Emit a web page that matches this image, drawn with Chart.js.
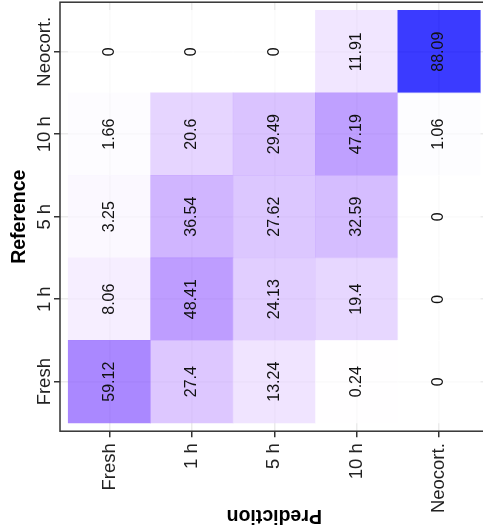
<!DOCTYPE html>
<html>
<head>
<meta charset="utf-8">
<script src="https://cdn.jsdelivr.net/npm/chart.js@4/dist/chart.umd.min.js"></script>
<style>
  html, body { margin: 0; padding: 0; background: #fff; overflow: hidden; }
  canvas { display: block; }
</style>
</head>
<body>
<canvas id="c" width="490" height="532"></canvas>
<script>
// Category labels (columns = prediction, rows = reference, listed bottom-up)
const predictionLabels = ['Fresh', '1 h', '5 h', '10 h', 'Neocort.'];
const referenceLabels = ['Fresh', '1 h', '5 h', '10 h', 'Neocort.'];

// Percent of each reference group assigned to each predicted group
const freshRow    = [59.12, 27.4, 13.24, 0.24, 0];
const oneHourRow  = [8.06, 48.41, 24.13, 19.4, 0];
const fiveHourRow = [3.25, 36.54, 27.62, 32.59, 0];
const tenHourRow  = [1.66, 20.6, 29.49, 47.19, 1.06];
const neocortRow  = [0, 0, 0, 11.91, 88.09];
const rows = [freshRow, oneHourRow, fiveHourRow, tenHourRow, neocortRow];

// White -> blue fill gradient, interpolated in CIELAB
const maxVal = Math.max(...rows.flat());
const lin = c => { c /= 255; return c <= 0.04045 ? c / 12.92 : Math.pow((c + 0.055) / 1.055, 2.4); };
const gam = c => { c = c <= 0.0031308 ? 12.92 * c : 1.055 * Math.pow(c, 1 / 2.4) - 0.055; return Math.round(Math.min(1, Math.max(0, c)) * 255); };
const Xn = 0.95047, Yn = 1.0, Zn = 1.08883;
function toLab(rgb) {
  const [r, g, b] = rgb.map(lin);
  const X = 0.4124 * r + 0.3576 * g + 0.1805 * b;
  const Y = 0.2126 * r + 0.7152 * g + 0.0722 * b;
  const Z = 0.0193 * r + 0.1192 * g + 0.9505 * b;
  const f = t => t > 0.008856 ? Math.cbrt(t) : 7.787 * t + 16 / 116;
  const fx = f(X / Xn), fy = f(Y / Yn), fz = f(Z / Zn);
  return [116 * fy - 16, 500 * (fx - fy), 200 * (fy - fz)];
}
function fromLab([L, a, bb]) {
  const fy = (L + 16) / 116, fx = fy + a / 500, fz = fy - bb / 200;
  const inv = t => t > 0.206893 ? t * t * t : (t - 16 / 116) / 7.787;
  const X = Xn * inv(fx), Y = Yn * inv(fy), Z = Zn * inv(fz);
  const r = 3.2406 * X - 1.5372 * Y - 0.4986 * Z;
  const g = -0.9689 * X + 1.8758 * Y + 0.0415 * Z;
  const b = 0.0557 * X - 0.2040 * Y + 1.0570 * Z;
  return [gam(r), gam(g), gam(b)];
}
const labLow = toLab([255, 255, 255]);
const labHigh = toLab([0, 0, 255]);
function fillFor(v) {
  const t = v / maxVal;
  const lab = labLow.map((c, k) => c + (labHigh[k] - c) * t);
  const [r, g, b] = fromLab(lab);
  return `rgba(${r},${g},${b},0.77)`;
}

// One floating-bar dataset per reference row; each bar spans one tile
const datasets = rows.map((row, i) => ({
  label: referenceLabels[i],
  data: row.map((v, j) => ({ x: j, y: [i - 0.5, i + 0.5], v })),
  backgroundColor: row.map(fillFor),
  borderWidth: 0,
  grouped: false,
  barPercentage: 1,
  categoryPercentage: 1
}));

const FONT = '"Liberation Sans", Arial, Helvetica, sans-serif';

const heatText = {
  id: 'heatText',
  afterDatasetsDraw(chart) {
    const { ctx, chartArea: a, scales: { x, y } } = chart;
    ctx.save();

    // panel border
    ctx.strokeStyle = '#333333';
    ctx.lineWidth = 1.5;
    ctx.strokeRect(a.left, a.top, a.right - a.left, a.bottom - a.top);

    // tile values
    ctx.fillStyle = '#111111';
    ctx.font = `16px ${FONT}`;
    ctx.textAlign = 'center';
    ctx.textBaseline = 'middle';
    rows.forEach((row, i) => row.forEach((v, j) => {
      ctx.save();
      ctx.translate(x.getPixelForValue(j), y.getPixelForValue(i));
      ctx.rotate(-Math.PI / 2);
      ctx.fillText(String(v), 0, 0);
      ctx.restore();
    }));

    // reference (left) tick labels
    ctx.fillStyle = '#222222';
    ctx.font = `18.5px ${FONT}`;
    ctx.textAlign = 'center';
    ctx.textBaseline = 'alphabetic';
    referenceLabels.forEach((lab, i) => {
      ctx.save();
      ctx.translate(a.left - 10, y.getPixelForValue(i));
      ctx.rotate(-Math.PI / 2);
      ctx.fillText(lab, 0, 0);
      ctx.restore();
    });

    // prediction (bottom) tick labels
    ctx.textAlign = 'right';
    ctx.textBaseline = 'middle';
    predictionLabels.forEach((lab, j) => {
      ctx.save();
      ctx.translate(x.getPixelForValue(j), a.bottom + 12);
      ctx.rotate(-Math.PI / 2);
      ctx.fillText(lab, 0, 0);
      ctx.restore();
    });

    // axis titles
    ctx.fillStyle = '#000000';
    ctx.font = `bold 19.5px ${FONT}`;
    ctx.textAlign = 'center';
    ctx.textBaseline = 'alphabetic';
    ctx.save();
    ctx.translate(25, (a.top + a.bottom) / 2);
    ctx.rotate(-Math.PI / 2);
    ctx.fillText('Reference', 0, 0);
    ctx.restore();

    ctx.save();
    ctx.translate((a.left + a.right) / 2, 510);
    ctx.rotate(Math.PI);
    ctx.fillText('Prediction', 0, 0);
    ctx.restore();

    ctx.restore();
  }
};

const gridOpts = {
  offset: false,
  color: '#ebebeb',
  lineWidth: 1.5,
  drawTicks: true,
  tickLength: 6,
  tickColor: '#333333',
  tickWidth: 1.5
};

new Chart(document.getElementById('c'), {
  type: 'bar',
  data: { datasets },
  options: {
    responsive: false,
    animation: false,
    devicePixelRatio: 1,
    layout: { padding: { top: 2.2, right: 1.5, bottom: 0, left: 0 } },
    plugins: { legend: { display: false }, tooltip: { enabled: false } },
    scales: {
      x: {
        type: 'linear',
        min: -0.6,
        max: 4.6,
        offset: false,
        afterBuildTicks: s => { s.ticks = predictionLabels.map((_, j) => ({ value: j })); },
        afterFit: s => { s.height = 100.8; },
        ticks: { display: false },
        grid: gridOpts,
        border: { display: false }
      },
      y: {
        type: 'linear',
        min: -0.6,
        max: 4.6,
        beginAtZero: false,
        afterBuildTicks: s => { s.ticks = referenceLabels.map((_, i) => ({ value: i })); },
        afterFit: s => { s.width = 60; },
        ticks: { display: false },
        grid: gridOpts,
        border: { display: false }
      }
    }
  },
  plugins: [heatText]
});
</script>
</body>
</html>
